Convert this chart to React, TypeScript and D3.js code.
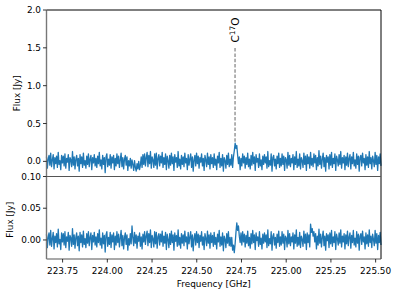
import * as d3 from "d3";

// frequency axis (GHz): channels are evenly spaced between these
const freqStart = 223.66;
const freqEnd = 225.53;

// upper panel flux [Jy]
const fluxTop = [
  0.06, -0.09, 0.03, 0.08, -0.05, 0.11, -0.07, 0.02, 0.09, -0.1, 0.05, -0.03, 0.07, -0.08, 0.12, -0.04, 0.01, -0.11, 0.08, -0.02,
  0.07, -0.06, 0.1, -0.09, 0.04, -0.01, 0.09, -0.12, 0.05, 0.02, -0.07, 0.13, -0.05, 0.06, -0.1, 0.03, 0.08, -0.06, 0.04, -0.13,
  0.09, -0.03, 0.06, -0.08, 0.11, -0.05, 0.01, -0.09, 0.07, -0.04, 0.1, -0.07, 0.03, 0.08, -0.11, 0.05, -0.02, 0.09, -0.06, 0.04,
  -0.08, 0.07, -0.03, 0.12, -0.06, 0.02, -0.1, 0.08, -0.04, 0.05, -0.15, 0.06, 0.1, -0.07, 0.03, -0.05, 0.09, -0.09, 0.06, -0.02,
  0.08, -0.11, 0.04, -0.06, 0.1, -0.03, 0.07, -0.08, 0.02, 0.11, -0.07, 0.05, -0.1, 0.03, 0.08, -0.05, 0.06, -0.12, 0.01, -0.06,
  0.04, -0.09, 0.02, -0.04, -0.12, 0.01, -0.08, -0.13, -0.03, -0.1, 0.0, -0.11, -0.05, 0.06, -0.08, 0.09, -0.04, 0.1, -0.06, 0.05,
  0.12, -0.07, 0.08, -0.03, 0.13, -0.09, 0.06, 0.02, -0.08, 0.1, -0.05, 0.11, -0.1, 0.04, 0.09, -0.06, 0.07, -0.02, 0.12, -0.08,
  0.05, -0.04, 0.1, -0.11, 0.07, 0.01, -0.09, 0.08, -0.05, 0.11, -0.03, 0.06, -0.12, 0.09, -0.01, 0.05, -0.08, 0.13, -0.06, 0.03,
  -0.1, 0.08, -0.04, 0.06, -0.07, 0.11, -0.02, 0.04, -0.11, 0.09, -0.05, 0.03, 0.1, -0.08, 0.06, -0.13, 0.02, 0.08, -0.06, 0.11,
  -0.03, 0.07, -0.09, 0.05, -0.01, 0.1, -0.06, 0.04, -0.12, 0.08, 0.02, -0.07, 0.11, -0.04, 0.06, -0.1, 0.09, -0.03, 0.05, -0.08,
  0.1, -0.05, 0.03, -0.11, 0.07, -0.02, 0.12, -0.08, 0.04, -0.06, 0.09, -0.13, 0.05, 0.01, -0.09, 0.08, -0.04, 0.11, -0.07, 0.03,
  -0.05, 0.09, -0.08, 0.06, 0.14, 0.24, 0.17, 0.21, 0.08, -0.03, 0.06, -0.11, 0.04, -0.06, 0.1, -0.02, 0.07, -0.09, 0.05, -0.04,
  0.11, -0.07, 0.03, -0.1, 0.08, -0.05, 0.12, -0.03, 0.06, -0.12, 0.09, -0.01, 0.04, -0.08, 0.1, -0.06, 0.02, -0.11, 0.07, -0.04,
  0.09, -0.02, 0.06, -0.09, 0.13, -0.07, 0.01, -0.05, 0.1, -0.13, 0.05, 0.08, -0.06, 0.03, -0.1, 0.07, -0.03, 0.11, -0.08, 0.04,
  -0.06, 0.1, -0.04, 0.07, -0.12, 0.05, 0.02, -0.09, 0.12, -0.05, 0.08, -0.07, 0.04, -0.02, 0.09, -0.11, 0.06, -0.04, 0.13, -0.08,
  0.03, -0.06, 0.1, -0.1, 0.05, 0.01, -0.08, 0.11, -0.04, 0.07, -0.12, 0.09, -0.03, 0.06, -0.09, 0.12, -0.05, 0.04, -0.07, 0.1,
  -0.02, 0.08, -0.11, 0.05, -0.06, 0.14, -0.04, 0.07, -0.09, 0.03, 0.11, -0.07, 0.05, -0.13, 0.08, -0.01, 0.06, -0.1, 0.09, -0.05,
  0.12, -0.08, 0.04, -0.03, 0.1, -0.12, 0.07, 0.02, -0.06, 0.09, -0.04, 0.13, -0.09, 0.05, -0.02, 0.08, -0.11, 0.06, -0.05, 0.11,
  -0.07, 0.04, 0.09, -0.1, 0.06, -0.03, 0.12, -0.06, 0.02, -0.09, 0.1, -0.04, 0.07, -0.13, 0.05, 0.08, -0.06, 0.11, -0.02, 0.04,
  -0.11, 0.09, -0.05, 0.06, -0.08, 0.13, -0.03, 0.05, -0.1, 0.07, 0.01, -0.07, 0.12, -0.04, 0.08, -0.12, 0.06, -0.03, 0.1, -0.06,
];

// lower panel flux [Jy]
const fluxBottom = [
  0.009, -0.012, 0.004, 0.011, -0.008, 0.015, -0.01, 0.002, 0.012, -0.014, 0.006, -0.004, 0.01, -0.011, 0.017, -0.006, 0.001, -0.015, 0.011, -0.003,
  0.01, -0.008, 0.013, -0.012, 0.005, -0.002, 0.012, -0.016, 0.007, 0.003, -0.01, 0.018, -0.007, 0.008, -0.013, 0.004, 0.011, -0.009, 0.006, -0.017,
  0.012, -0.004, 0.008, -0.011, 0.014, -0.007, 0.002, -0.012, 0.01, -0.005, 0.013, -0.009, 0.004, 0.011, -0.015, 0.007, -0.003, 0.012, -0.008, 0.005,
  -0.011, 0.01, -0.004, 0.016, -0.008, 0.003, -0.013, 0.011, -0.006, 0.007, -0.019, 0.008, 0.013, -0.01, 0.004, -0.007, 0.012, -0.012, 0.008, -0.003,
  0.011, -0.015, 0.006, -0.008, 0.013, -0.004, 0.009, -0.011, 0.003, 0.015, -0.009, 0.007, -0.014, 0.004, 0.011, -0.007, 0.008, -0.016, 0.002, -0.008,
  0.01, -0.006, 0.022, 0.004, -0.009, 0.012, -0.005, 0.008, -0.013, 0.006, -0.002, 0.011, -0.01, 0.005, -0.014, 0.009, -0.003, 0.013, -0.007, 0.006,
  0.014, -0.009, 0.01, -0.004, 0.016, -0.012, 0.007, 0.002, -0.011, 0.013, -0.006, 0.012, -0.013, 0.005, 0.01, -0.008, 0.009, -0.003, 0.014, -0.01,
  0.006, -0.005, 0.012, -0.015, 0.009, 0.001, -0.012, 0.01, -0.007, 0.014, -0.004, 0.008, -0.016, 0.011, -0.002, 0.007, -0.01, 0.016, -0.008, 0.004,
  -0.013, 0.01, -0.005, 0.008, -0.009, 0.014, -0.003, 0.005, -0.014, 0.012, -0.006, 0.004, 0.013, -0.011, 0.008, -0.017, 0.003, 0.01, -0.008, 0.013,
  -0.004, 0.009, -0.012, 0.007, -0.002, 0.013, -0.008, 0.005, -0.015, 0.01, 0.003, -0.009, 0.014, -0.005, 0.008, -0.013, 0.011, -0.004, 0.007, -0.01,
  0.012, -0.007, 0.004, -0.014, 0.009, -0.003, 0.015, -0.01, 0.005, -0.008, 0.011, -0.017, 0.006, 0.001, -0.012, 0.01, -0.005, 0.013, -0.009, 0.004,
  -0.01, 0.004, -0.016, -0.008, -0.02, -0.006, 0.012, 0.027, 0.015, 0.022, 0.006, -0.004, 0.011, -0.008, 0.013, -0.003, 0.009, -0.011, 0.007, -0.005,
  0.014, -0.009, 0.004, -0.013, 0.01, -0.006, 0.015, -0.004, 0.008, -0.015, 0.011, -0.001, 0.005, -0.01, 0.013, -0.007, 0.003, -0.014, 0.009, -0.005,
  0.011, -0.003, 0.008, -0.012, 0.016, -0.009, 0.002, -0.006, 0.013, -0.016, 0.006, 0.01, -0.008, 0.004, -0.013, 0.009, -0.004, 0.014, -0.01, 0.005,
  -0.008, 0.013, -0.005, 0.009, -0.015, 0.006, 0.003, -0.011, 0.015, -0.006, 0.01, -0.009, 0.005, -0.003, 0.011, -0.014, 0.008, -0.005, 0.016, -0.01,
  0.004, -0.008, 0.012, -0.012, 0.006, 0.001, -0.01, 0.014, -0.005, 0.009, -0.015, 0.011, -0.004, 0.008, -0.011, 0.025, 0.012, 0.018, 0.006, 0.013,
  -0.003, 0.01, -0.014, 0.006, -0.008, 0.017, -0.005, 0.009, -0.011, 0.004, 0.014, -0.009, 0.006, -0.016, 0.01, -0.001, 0.008, -0.012, 0.011, -0.006,
  0.015, -0.01, 0.005, -0.004, 0.013, -0.015, 0.009, 0.002, -0.008, 0.011, -0.005, 0.016, -0.011, 0.006, -0.003, 0.01, -0.014, 0.008, -0.006, 0.014,
  -0.009, 0.005, 0.011, -0.013, 0.007, -0.004, 0.015, -0.008, 0.003, -0.011, 0.013, -0.005, 0.009, -0.016, 0.006, 0.01, -0.007, 0.014, -0.003, 0.005,
  -0.014, 0.011, -0.006, 0.008, -0.01, 0.016, -0.004, 0.006, -0.012, 0.009, 0.001, -0.009, 0.015, -0.005, 0.01, -0.015, 0.007, -0.004, 0.012, -0.008,
];

const xTickValues = [223.75, 224.0, 224.25, 224.5, 224.75, 225.0, 225.25, 225.5];
const topYTicks = [0.0, 0.5, 1.0, 1.5, 2.0];
const bottomYTicks = [0.0, 0.05, 0.1];

const lineFreq = 224.714;
const lineName = "C";

export default function App() {
  const width = 399;
  const height = 295;
  const marginLeft = 46.5;
  const marginRight = 18;
  const topY0 = 10;
  const splitY = 176.5;
  const bottomY1 = 259;
  const font = "DejaVu Sans, sans-serif";
  const blue = "#1f77b4";

  const x = d3.scaleLinear().domain([freqStart, freqEnd]).range([marginLeft, width - marginRight]);
  const yTop = d3.scaleLinear().domain([-0.2, 2.0]).range([splitY, topY0]);
  const yBottom = d3.scaleLinear().domain([-0.03, 0.1]).range([bottomY1, splitY]);

  const chan = (i: number, n: number) => freqStart + ((freqEnd - freqStart) * i) / (n - 1);

  const topLine = d3.line<number>()
    .x((d, i) => x(chan(i, fluxTop.length)))
    .y((d) => yTop(d));
  const bottomLine = d3.line<number>()
    .x((d, i) => x(chan(i, fluxBottom.length)))
    .y((d) => yBottom(d));

  const right = width - marginRight;

  return (
    <svg width={width} height={height} style={{ position: "absolute", left: 0, top: 0 }} fontFamily={font}>
      <rect width={width} height={height} fill="white" />

      {/* spectra */}
      <path d={topLine(fluxTop) ?? ""} fill="none" stroke={blue} strokeWidth={1.3} strokeLinejoin="round" />
      <path d={bottomLine(fluxBottom) ?? ""} fill="none" stroke={blue} strokeWidth={1.3} strokeLinejoin="round" />

      {/* line marker */}
      <line x1={x(lineFreq)} x2={x(lineFreq)} y1={yTop(0.26)} y2={yTop(1.5)} stroke="#7f7f7f" strokeWidth={1.2} strokeDasharray="3.5,1.8" />
      <text transform={`translate(${x(lineFreq) + 4},${yTop(1.57)}) rotate(-90)`} fontSize={10.5} fill="black">
        {lineName}
        <tspan fontSize={7.5} dy={-4}>17</tspan>
        <tspan dy={4}>O</tspan>
      </text>

      {/* spines */}
      <line x1={marginLeft} x2={right} y1={topY0} y2={topY0} stroke="black" strokeWidth={1} />
      <line x1={right} x2={right} y1={topY0} y2={bottomY1} stroke="black" strokeWidth={1} />
      <line x1={marginLeft} x2={right} y1={splitY} y2={splitY} stroke="#555" strokeWidth={1.2} />
      <line x1={marginLeft} x2={right} y1={bottomY1} y2={bottomY1} stroke="#555" strokeWidth={1.2} />
      <line x1={marginLeft} x2={marginLeft} y1={topY0} y2={bottomY1} stroke="#777" strokeWidth={1.4} />

      {/* top y ticks */}
      {topYTicks.map((t) => (
        <g key={"t" + t} transform={`translate(${marginLeft},${yTop(t)})`}>
          <line x2={-3.5} stroke="black" strokeWidth={0.8} />
          <text x={-5.5} dy="0.35em" textAnchor="end" fontSize={8.9}>{t.toFixed(1)}</text>
        </g>
      ))}

      {/* bottom y ticks */}
      {bottomYTicks.map((t) => (
        <g key={"b" + t} transform={`translate(${marginLeft},${yBottom(t)})`}>
          <line x2={-3.5} stroke="black" strokeWidth={0.8} />
          <text x={-5.5} dy="0.35em" textAnchor="end" fontSize={8.9}>{t.toFixed(2)}</text>
        </g>
      ))}

      {/* x ticks */}
      {xTickValues.map((t) => (
        <g key={"x" + t} transform={`translate(${x(t)},${bottomY1})`}>
          <line y2={3.5} stroke="black" strokeWidth={0.8} />
          <text y={14.5} textAnchor="middle" fontSize={8.9}>{t.toFixed(2)}</text>
        </g>
      ))}

      {/* axis labels */}
      <text transform={`translate(20,${(topY0 + splitY) / 2}) rotate(-90)`} textAnchor="middle" fontSize={8.9}>Flux [Jy]</text>
      <text transform={`translate(13,${(splitY + bottomY1) / 2 + 2}) rotate(-90)`} textAnchor="middle" fontSize={8.9}>Flux [Jy]</text>
      <text x={(marginLeft + right) / 2} y={287} textAnchor="middle" fontSize={8.9}>Frequency [GHz]</text>
    </svg>
  );
}
